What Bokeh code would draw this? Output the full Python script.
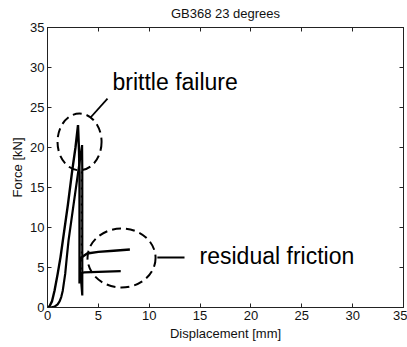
from bokeh.plotting import figure
from bokeh.models import LinearAxis, Range1d, FixedTicker, CustomJSTickFormatter, Label
from bokeh.embed import file_html
from bokeh.resources import INLINE

# ---- data ----
test1_disp = [0, 0.2, 0.45, 0.69, 1.0, 1.28, 1.51, 2.0, 2.43, 2.75, 3.0, 3.1, 3.15, 3.15, 3.2, 3.4, 3.9, 5.0, 6.5, 8.1]
test1_force = [0, 0.15, 0.8, 2.1, 4.2, 6.3, 8.4, 12.8, 17.1, 20.0, 22.8, 19.5, 16.5, 3.0, 6.0, 6.3, 6.75, 6.95, 7.1, 7.25]

test2_disp = [0, 0.3, 0.7, 1.0, 1.2, 1.35, 1.5, 1.74, 1.9, 2.07, 2.5, 3.0, 3.4, 3.42, 3.42, 3.25, 3.6, 5.0, 7.2]
test2_force = [0, 0.0, 0.1, 0.4, 0.8, 1.3, 2.1, 4.2, 6.3, 8.4, 12.3, 16.8, 20.3, 17.0, 1.5, 4.3, 4.38, 4.45, 4.55]

test3_disp = [3.35, 3.35]
test3_force = [17.0, 3.0]

x_ticks = [0, 5, 10, 15, 20, 25, 30, 35]
y_ticks = [0, 5, 10, 15, 20, 25, 30, 35]

title_text = "GB368 23 degrees"
x_label = "Displacement [mm]"
y_label = "Force [kN]"

# annotations (data coordinates)
brittle_ellipse = dict(x=3.15, y=20.7, w=4.33, h=7.1)
residual_ellipse = dict(x=7.28, y=6.19, w=6.69, h=7.37)
brittle_pointer = ([4.23, 5.9], [23.75, 26.1])
residual_pointer = ([10.8, 13.47], [6.25, 6.25])
brittle_text = ("brittle failure", 6.39, 28.15)
residual_text = ("residual friction", 14.95, 6.4)

FONT = "Liberation Sans"

p = figure(width=407, height=347, output_backend="svg", toolbar_location=None,
           x_range=Range1d(0, 35), y_range=Range1d(0, 35),
           min_border_left=47, min_border_right=4, min_border_top=27, min_border_bottom=40)
p.title.text = title_text
p.title.align = "center"
p.title.vertical_align = "top"
p.title.text_font = FONT
p.title.text_font_size = "13px"
p.title.text_font_style = "normal"
p.title.text_color = "#111111"
p.title.offset = 0

p.xgrid.visible = False
p.ygrid.visible = False
p.outline_line_color = "#222222"
p.outline_line_width = 1
p.background_fill_color = "white"
p.border_fill_color = "white"

for ax, ticks in [(p.xaxis[0], x_ticks), (p.yaxis[0], y_ticks)]:
    ax.ticker = FixedTicker(ticks=ticks)
    ax.major_tick_in = 4
    ax.major_tick_out = 0
    ax.minor_tick_line_color = None
    ax.axis_line_color = "#222222"
    ax.major_tick_line_color = "#222222"
    ax.major_label_text_font = FONT
    ax.major_label_text_font_size = "13px"
    ax.major_label_text_color = "#111111"
    ax.axis_label_text_font = FONT
    ax.axis_label_text_font_size = "13px"
    ax.axis_label_text_font_style = "normal"
    ax.axis_label_text_color = "#111111"
    ax.major_label_standoff = 3

p.xaxis[0].axis_label = x_label
p.yaxis[0].axis_label = y_label
p.xaxis[0].axis_label_standoff = 3
p.yaxis[0].axis_label_standoff = 2

empty = CustomJSTickFormatter(code="return ''")
top = LinearAxis(ticker=FixedTicker(ticks=x_ticks), formatter=empty, major_tick_in=4, major_tick_out=0,
                 minor_tick_line_color=None, major_label_standoff=0, major_label_text_font_size="1px",
                 axis_line_color="#222222", major_tick_line_color="#222222")
right = LinearAxis(ticker=FixedTicker(ticks=y_ticks), formatter=empty, major_tick_in=4, major_tick_out=0,
                   minor_tick_line_color=None, major_label_standoff=0, major_label_text_font_size="1px",
                   axis_line_color="#222222", major_tick_line_color="#222222")
p.add_layout(top, "above")
p.add_layout(right, "right")

# curves
p.line(test1_disp, test1_force, line_color="black", line_width=2.4)
p.line(test2_disp, test2_force, line_color="black", line_width=2.2)
p.line(test3_disp, test3_force, line_color="black", line_width=1.5, line_dash="2 6")

# annotations
for e in [brittle_ellipse, residual_ellipse]:
    p.ellipse(x=e["x"], y=e["y"], width=e["w"], height=e["h"], fill_color=None,
              line_color="black", line_width=2, line_dash="9 5")
p.line(brittle_pointer[0], brittle_pointer[1], line_color="black", line_width=1.8)
p.line(residual_pointer[0], residual_pointer[1], line_color="black", line_width=1.8)

for txt, tx, ty in [brittle_text, residual_text]:
    p.add_layout(Label(x=tx, y=ty, text=txt, text_font=FONT, text_font_size="23px",
                       text_color="black", text_baseline="alphabetic", text_align="left"))

open("out.html", "w").write(file_html(p, INLINE))
